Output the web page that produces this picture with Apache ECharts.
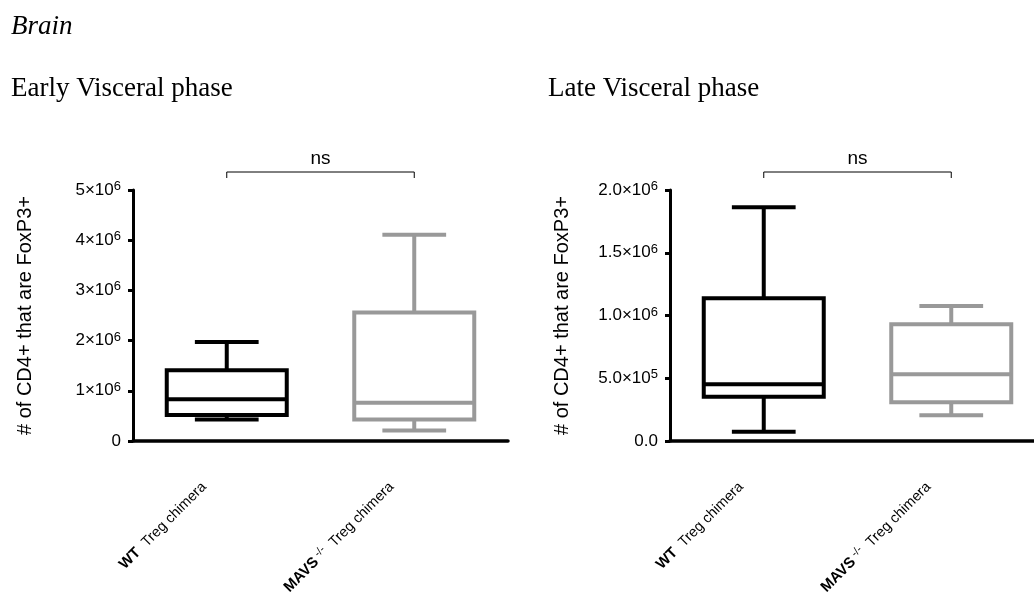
<!DOCTYPE html>
<html>
<head>
<meta charset="utf-8">
<script src="https://cdn.jsdelivr.net/npm/echarts@6/dist/echarts.min.js"></script>
<style>
  html, body { margin: 0; padding: 0; background: #fff; }
  #chart { width: 1034px; height: 592px; }
</style>
</head>
<body>
<div id="chart"></div>
<script>
// groups on the x axis
const genotypes = ['WT', 'MAVS'];
const genotypeSup = ['', '-/-'];
const groupSuffix = 'Treg chimera';
const groupColors = ['#000000', '#999999'];

// box values: [min, Q1, median, Q3, max]
const earlyWT = [430000, 520000, 830000, 1410000, 1970000];
const earlyMAVS = [210000, 430000, 760000, 2560000, 4110000];
const lateWT = [74000, 353000, 452000, 1137000, 1862000];
const lateMAVS = [205000, 308000, 531000, 930000, 1076000];

// y axes
const earlyTicks = ['0', '1×10^6', '2×10^6', '3×10^6', '4×10^6', '5×10^6'];
const lateTicks = ['0.0', '5.0×10^5', '1.0×10^6', '1.5×10^6', '2.0×10^6'];
const earlyMax = 5000000, earlyStep = 1000000;
const lateMax = 2000000, lateStep = 500000;

const panelTitles = ['Early Visceral phase', 'Late Visceral phase'];
const yTitle = '# of CD4+ that are FoxP3+';
const sigLabels = ['ns', 'ns'];

const SANS = 'Liberation Sans, Arial, sans-serif';
const SERIF = 'Liberation Serif, Times New Roman, serif';

function supText(s) {
  const p = s.split('^');
  return p.length > 1 ? '{m|' + p[0] + '}{s|' + p[1] + '}' : '{m|' + s + '}';
}

function renderBox(params, api) {
  const x = api.value(0);
  const pMin = api.coord([x, api.value(1)]);
  const pQ1 = api.coord([x, api.value(2)]);
  const pMed = api.coord([x, api.value(3)]);
  const pQ3 = api.coord([x, api.value(4)]);
  const pMax = api.coord([x, api.value(5)]);
  const band = api.size([1, 0])[0];
  const half = band * 0.32, cap = band * 0.17;
  const cx = pMed[0];
  const col = groupColors[params.dataIndex];
  const st = function () { return { stroke: col, lineWidth: 4, fill: null }; };
  return {
    type: 'group',
    children: [
      { type: 'line', shape: { x1: cx, y1: pQ3[1], x2: cx, y2: pMax[1] }, style: st() },
      { type: 'line', shape: { x1: cx - cap, y1: pMax[1], x2: cx + cap, y2: pMax[1] }, style: st() },
      { type: 'line', shape: { x1: cx, y1: pQ1[1], x2: cx, y2: pMin[1] }, style: st() },
      { type: 'line', shape: { x1: cx - cap, y1: pMin[1], x2: cx + cap, y2: pMin[1] }, style: st() },
      { type: 'rect', shape: { x: cx - half, y: pQ3[1], width: half * 2, height: pQ1[1] - pQ3[1] }, style: st() },
      { type: 'line', shape: { x1: cx - half, y1: pMed[1], x2: cx + half, y2: pMed[1] }, style: st() }
    ]
  };
}

function xAxisFor(i) {
  return {
    type: 'category',
    gridIndex: i,
    data: genotypes,
    axisLine: { lineStyle: { color: '#000', width: 3.5 } },
    axisTick: { alignWithLabel: true, length: 9, lineStyle: { color: '#000', width: 3 } },
    axisLabel: {
      interval: 0,
      rotate: 45,
      margin: 21,
      padding: [0, 32, 0, 0],
      color: '#000',
      formatter: function (v, idx) {
        let s = '{b|' + genotypes[idx] + '}';
        if (genotypeSup[idx]) s += '{s| ' + genotypeSup[idx] + '}';
        return s + '{n|  ' + groupSuffix + '}';
      },
      rich: {
        b: { fontFamily: SANS, fontWeight: 'bold', fontSize: 15, color: '#000', lineHeight: 18 },
        s: { fontFamily: SANS, fontSize: 11, color: '#000', verticalAlign: 'top', lineHeight: 11 },
        n: { fontFamily: SANS, fontSize: 14.5, color: '#000', lineHeight: 18 }
      }
    }
  };
}

function yAxisFor(i, max, step, ticks) {
  return {
    type: 'value',
    gridIndex: i,
    min: 0,
    max: max,
    interval: step,
    name: yTitle,
    nameLocation: 'middle',
    nameGap: 98,
    nameTextStyle: { fontFamily: SANS, fontSize: 20, color: '#000' },
    splitLine: { show: false },
    axisLine: { show: true, lineStyle: { color: '#000', width: 3 } },
    axisTick: { show: true, length: 5, lineStyle: { color: '#000', width: 3 } },
    axisLabel: {
      margin: 12,
      color: '#000',
      formatter: function (v) { return supText(ticks[Math.round(v / step)]); },
      rich: {
        m: { fontFamily: SANS, fontSize: 17, color: '#000', lineHeight: 20 },
        s: { fontFamily: SANS, fontSize: 13, color: '#000', verticalAlign: 'top', lineHeight: 15 }
      }
    }
  };
}

function boxData(a, b) {
  return [[0].concat(a), [1].concat(b)];
}

const titleStyle = { fontFamily: SERIF, fontWeight: 'normal', fontSize: 27, color: '#000' };

const chart = echarts.init(document.getElementById('chart'));
chart.setOption({
  animation: false,
  backgroundColor: '#fff',
  title: [
    { text: 'Brain', left: 11, top: 13, padding: 0, textStyle: Object.assign({}, titleStyle, { fontStyle: 'italic' }) },
    { text: panelTitles[0], left: 11, top: 75, padding: 0, textStyle: titleStyle },
    { text: panelTitles[1], left: 548, top: 75, padding: 0, textStyle: titleStyle }
  ],
  grid: [
    { left: 133, top: 190, width: 375, height: 251, outerBoundsMode: 'none', containLabel: false },
    { left: 670, top: 190, width: 375, height: 251, outerBoundsMode: 'none', containLabel: false }
  ],
  xAxis: [xAxisFor(0), xAxisFor(1)],
  yAxis: [
    yAxisFor(0, earlyMax, earlyStep, earlyTicks),
    yAxisFor(1, lateMax, lateStep, lateTicks)
  ],
  series: [
    {
      type: 'custom', xAxisIndex: 0, yAxisIndex: 0,
      renderItem: renderBox,
      encode: { x: 0, y: [1, 2, 3, 4, 5] },
      data: boxData(earlyWT, earlyMAVS)
    },
    {
      type: 'custom', xAxisIndex: 1, yAxisIndex: 1,
      renderItem: renderBox,
      encode: { x: 0, y: [1, 2, 3, 4, 5] },
      data: boxData(lateWT, lateMAVS)
    }
  ]
});

// significance brackets above each panel
const graphics = [];
[0, 1].forEach(function (i) {
  const xa = chart.convertToPixel({ xAxisIndex: i }, 0);
  const xb = chart.convertToPixel({ xAxisIndex: i }, 1);
  const yTop = chart.convertToPixel({ yAxisIndex: i }, i === 0 ? earlyMax : lateMax);
  const yb = yTop - 18;
  graphics.push({
    type: 'polyline',
    shape: { points: [[xa, yb + 6], [xa, yb], [xb, yb], [xb, yb + 6]] },
    style: { stroke: '#000', lineWidth: 1, fill: null }
  });
  graphics.push({
    type: 'text',
    x: (xa + xb) / 2,
    y: yb - 4,
    style: { text: sigLabels[i], fontFamily: SANS, fontSize: 19, fill: '#000', align: 'center', verticalAlign: 'bottom' }
  });
});
chart.setOption({ graphic: graphics });
</script>
</body>
</html>
